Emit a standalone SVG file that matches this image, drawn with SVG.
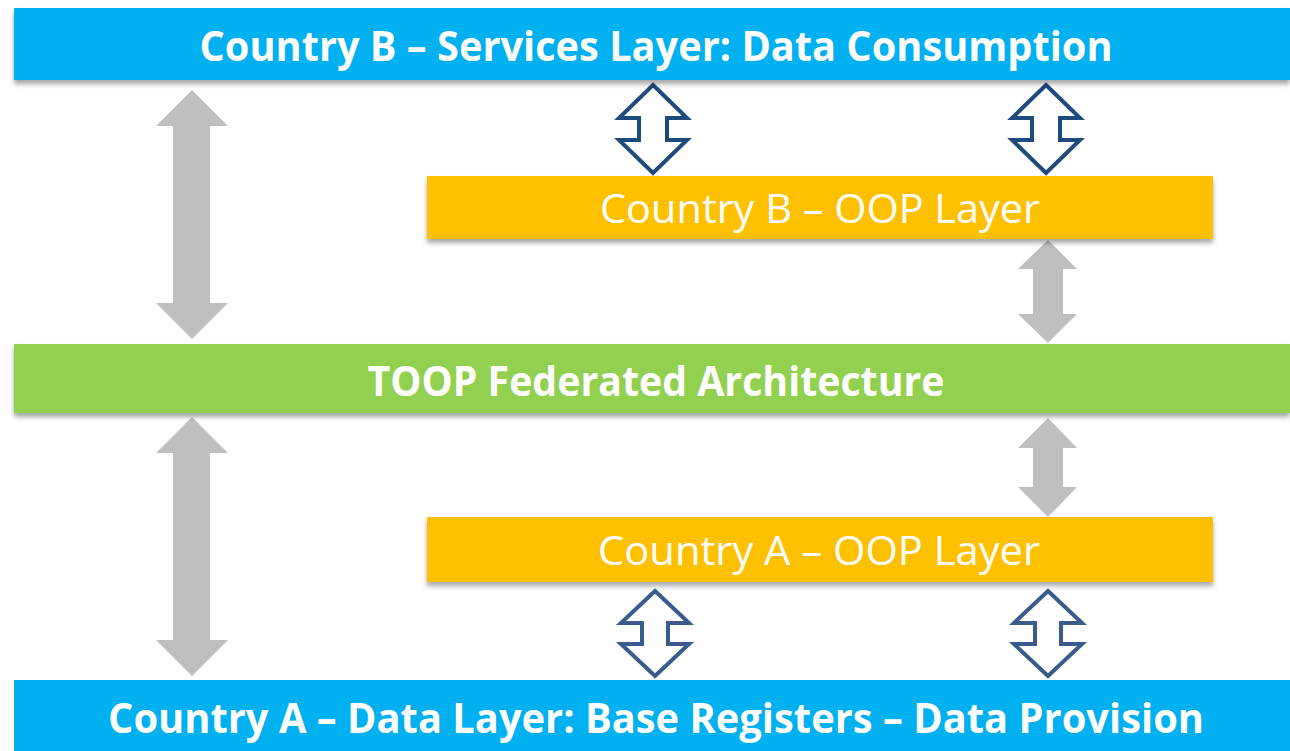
<svg xmlns="http://www.w3.org/2000/svg" width="1290" height="751" viewBox="0 0 1290 751">
<style>
.bar{filter:url(#sh)}
.blue{fill:#00B0F0}
.green{fill:#92D050}
.orange{fill:#FFC000}
.t{font-family:"Open Sans","Liberation Sans",sans-serif;fill:#FFFFFF;text-anchor:middle}
.b{font-weight:bold;font-size:41px}
.r{font-weight:normal;font-size:41px}
.ga{fill:#BFBFBF}
.oa{fill:#FFFFFF;stroke-width:4;stroke-linejoin:miter}
</style>
<defs>
<filter id="sh" x="-5%" y="-20%" width="110%" height="150%">
<feDropShadow dx="0" dy="4" stdDeviation="2.5" flood-color="#000000" flood-opacity="0.35"/>
</filter>
</defs>
<rect width="1290" height="751" fill="#FFFFFF"/>
<g id="connectors">
<polygon class="ga" points="192,90 228,126 210,126 210,303 228,303 192,339 156,303 173,303 173,126 156,126"/>
<polygon class="ga" points="192,417 228,453 210,453 210,640 228,640 192,676 156,640 173,640 173,453 156,453"/>
<polygon class="ga" points="1048,240 1077,269 1063,269 1063,314 1077,314 1048,343 1018,314 1033,314 1033,269 1018,269"/>
<polygon class="ga" points="1048,418 1077,448 1063,448 1063,487 1077,487 1048,517 1018,487 1033,487 1033,448 1018,448"/>
<polygon class="oa" stroke="#1F4A7C" points="653,85 687,118 667,118 667,140 687,140 653,173 619,140 639,140 639,118 619,118"/>
<polygon class="oa" stroke="#1F4A7C" points="1046,85 1080,118 1060,118 1060,140 1080,140 1046,173 1012,140 1032,140 1032,118 1012,118"/>
<polygon class="oa" stroke="#3A5C8C" points="655,591 689,623 668,623 668,644 689,644 655,676 621,644 642,644 642,623 621,623"/>
<polygon class="oa" stroke="#3A5C8C" points="1048,591 1082,623 1061,623 1061,644 1082,644 1048,676 1014,644 1035,644 1035,623 1014,623"/>
</g>
<g id="countryB-services">
<rect class="bar blue" x="14" y="8" width="1276" height="72"/>
<text class="t b" x="656" y="61" textLength="913" lengthAdjust="spacingAndGlyphs">Country B – Services Layer: Data Consumption</text>
</g>
<g id="countryB-oop">
<rect class="bar orange" x="427" y="176" width="786" height="63"/>
<text class="t r" x="820" y="223" textLength="440" lengthAdjust="spacingAndGlyphs">Country B – OOP Layer</text>
</g>
<g id="toop">
<rect class="bar green" x="14" y="344" width="1276" height="69"/>
<text class="t b" x="656" y="396" textLength="577" lengthAdjust="spacingAndGlyphs">TOOP Federated Architecture</text>
</g>
<g id="countryA-oop">
<rect class="bar orange" x="427" y="517" width="786" height="65"/>
<text class="t r" x="819" y="565" textLength="442" lengthAdjust="spacingAndGlyphs">Country A – OOP Layer</text>
</g>
<g id="countryA-data">
<rect class="blue" x="14" y="680" width="1276" height="71"/>
<text class="t b" x="656" y="733" textLength="1096" lengthAdjust="spacingAndGlyphs">Country A – Data Layer: Base Registers – Data Provision</text>
</g>
</svg>
